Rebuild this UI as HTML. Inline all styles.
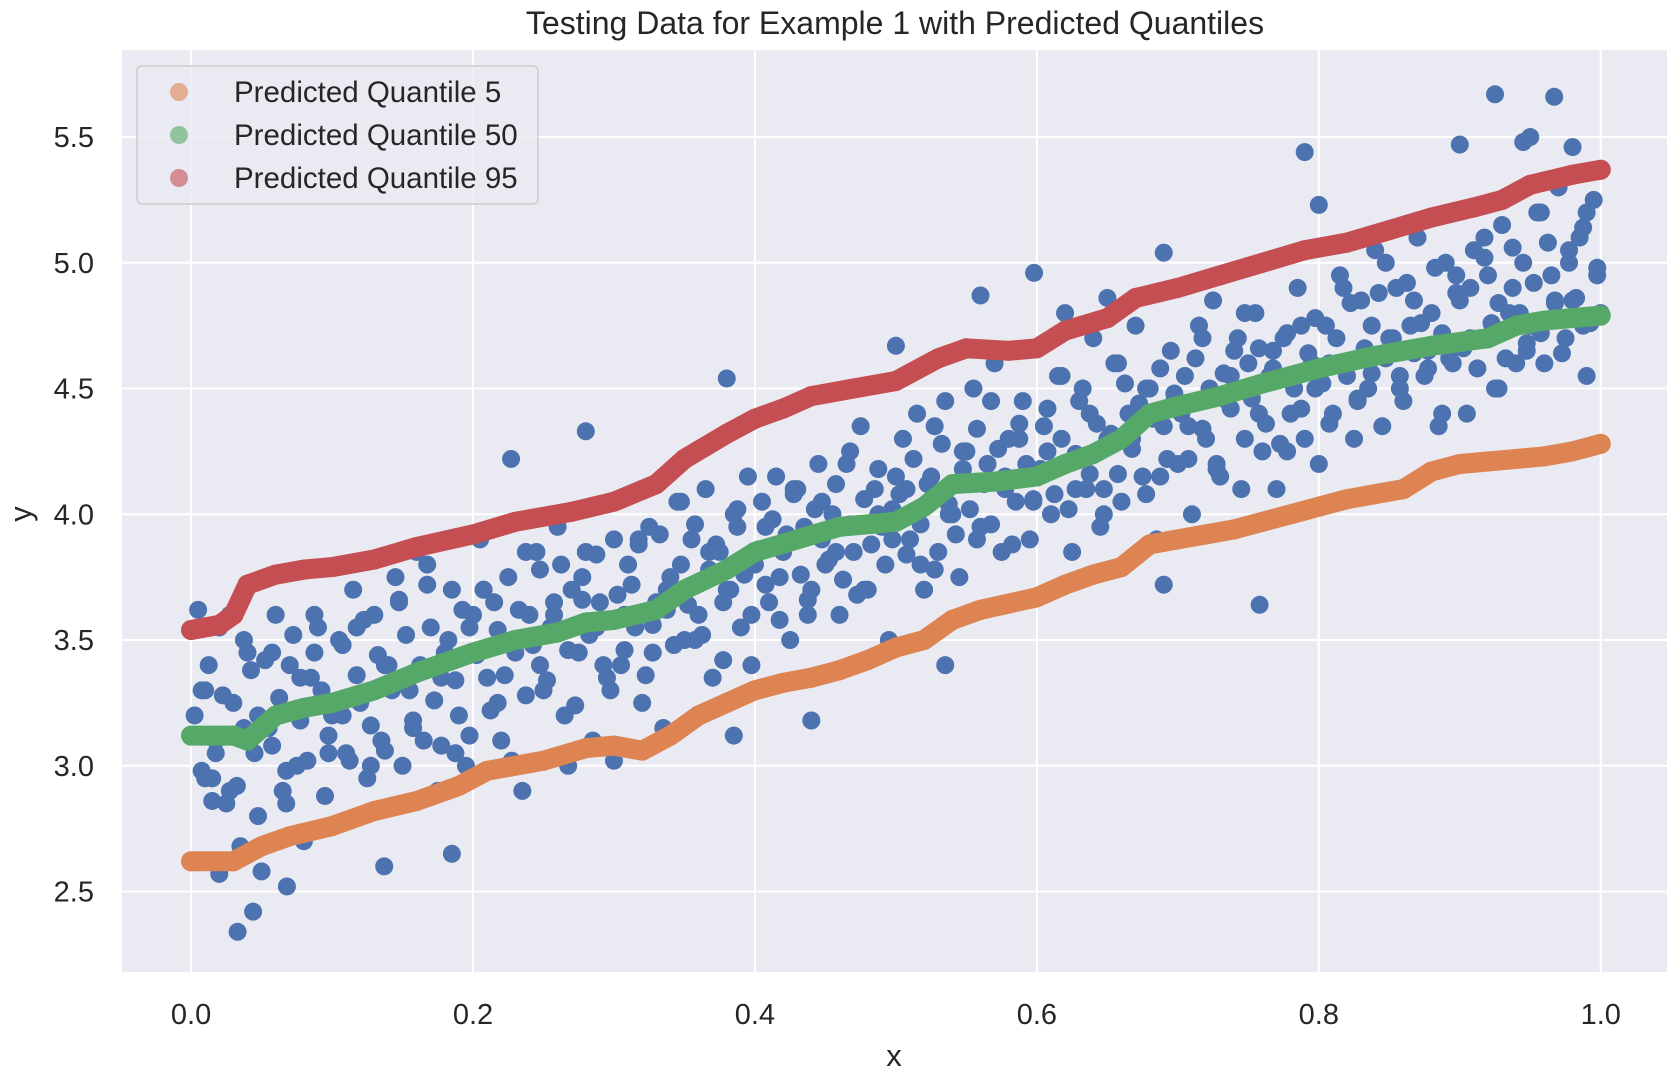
<!DOCTYPE html>
<html><head><meta charset="utf-8"><style>
html,body{margin:0;padding:0;background:#fff;}
svg{display:block;font-family:"Liberation Sans",Arial,sans-serif;}
</style></head><body>
<svg id="chart" width="1680" height="1082" viewBox="0 0 1680 1082" xmlns="http://www.w3.org/2000/svg">
<rect x="122" y="50" width="1545" height="922" fill="#eaeaf2"/>
<g id="grid"></g>
<g id="scatter"></g>
<g id="quant"></g>
<g id="ticks"></g>
<text x="895" y="34" text-anchor="middle" font-size="32" fill="#262626">Testing Data for Example 1 with Predicted Quantiles</text>
<text x="894" y="1066" text-anchor="middle" font-size="31" fill="#262626">x</text>
<text transform="translate(31,514) rotate(-90)" text-anchor="middle" font-size="31" fill="#262626">y</text>
<g>
<rect x="137" y="66" width="401" height="138" rx="5" fill="#eaeaf2" fill-opacity="0.8" stroke="#cccccc" stroke-width="1.5"/>
<g><circle cx="179" cy="92" r="9" fill="#dd8452" fill-opacity="0.6"/><text x="234" y="102" font-size="29.5" fill="#262626">Predicted Quantile 5</text></g>
<g><circle cx="179" cy="135" r="9" fill="#55a868" fill-opacity="0.6"/><text x="234" y="145" font-size="29.5" fill="#262626">Predicted Quantile 50</text></g>
<g><circle cx="179" cy="178" r="9" fill="#c44e52" fill-opacity="0.6"/><text x="234" y="188" font-size="29.5" fill="#262626">Predicted Quantile 95</text></g>
</g>
</svg>
<script>
const xTicks = [0.0,0.2,0.4,0.6,0.8,1.0];
const xTickLabels = ["0.0","0.2","0.4","0.6","0.8","1.0"];
const yTicks = [2.5,3.0,3.5,4.0,4.5,5.0,5.5];
const yTickLabels = ["2.5","3.0","3.5","4.0","4.5","5.0","5.5"];

const q5X = [0,0.03,0.05,0.07,0.1,0.13,0.16,0.19,0.21,0.25,0.28,0.3,0.32,0.34,0.36,0.38,0.4,0.42,0.44,0.46,0.48,0.5,0.52,0.54,0.56,0.6,0.62,0.64,0.66,0.68,0.7,0.72,0.74,0.76,0.78,0.8,0.82,0.84,0.86,0.88,0.9,0.92,0.94,0.96,0.98,1.0];
const q5Y = [2.62,2.62,2.68,2.72,2.76,2.82,2.86,2.92,2.98,3.02,3.07,3.08,3.06,3.12,3.2,3.25,3.3,3.33,3.35,3.38,3.42,3.47,3.5,3.58,3.62,3.67,3.72,3.76,3.79,3.88,3.9,3.92,3.94,3.97,4.0,4.03,4.06,4.08,4.1,4.17,4.2,4.21,4.22,4.23,4.25,4.28];
const q50X = [0,0.03,0.04,0.06,0.08,0.1,0.13,0.16,0.2,0.23,0.26,0.28,0.3,0.33,0.35,0.38,0.4,0.43,0.46,0.5,0.52,0.54,0.57,0.6,0.62,0.64,0.66,0.68,0.7,0.73,0.76,0.8,0.84,0.88,0.92,0.94,0.96,1.0];
const q50Y = [3.12,3.12,3.1,3.2,3.23,3.25,3.3,3.37,3.45,3.5,3.53,3.57,3.58,3.62,3.7,3.78,3.85,3.9,3.95,3.97,4.03,4.12,4.13,4.15,4.2,4.24,4.3,4.4,4.43,4.47,4.52,4.58,4.63,4.67,4.7,4.75,4.77,4.79];
const q95X = [0,0.02,0.03,0.04,0.06,0.08,0.1,0.13,0.16,0.2,0.23,0.27,0.3,0.33,0.35,0.38,0.4,0.42,0.44,0.47,0.5,0.53,0.55,0.58,0.6,0.62,0.65,0.67,0.7,0.73,0.76,0.79,0.82,0.85,0.88,0.91,0.93,0.95,0.98,1.0];
const q95Y = [3.54,3.56,3.6,3.72,3.76,3.78,3.79,3.82,3.87,3.92,3.97,4.01,4.05,4.12,4.22,4.32,4.38,4.42,4.47,4.5,4.53,4.62,4.66,4.65,4.66,4.73,4.78,4.86,4.9,4.95,5.0,5.05,5.08,5.13,5.18,5.22,5.25,5.31,5.35,5.37];

// cloud A: y values at x = 0.005, 0.010, ... 1.000
const cloudAY = [3.62,3.3,2.95,3.55,2.85,3.25,2.68,3.45,3.05,2.58,
3.15,3.6,2.9,3.4,3.0,2.7,3.35,3.55,2.88,3.2,
3.5,3.05,3.7,3.25,2.95,3.6,3.1,3.4,3.75,3.0,
3.3,3.85,3.1,3.55,2.9,3.45,3.7,3.2,3.0,3.6,
3.9,3.35,3.65,3.1,3.75,3.45,2.9,3.6,3.85,3.3,
3.55,3.95,3.2,3.7,3.45,3.85,3.1,3.65,3.35,3.9,
3.4,3.8,3.55,3.25,3.95,3.65,3.15,3.75,4.05,3.5,
3.9,3.6,4.1,3.35,3.85,3.7,4.0,3.55,4.15,3.8,
4.05,3.65,4.15,3.85,3.5,4.1,3.95,3.7,4.2,3.8,
4.0,3.6,4.2,3.85,4.35,3.7,4.1,3.95,3.5,4.15,
4.3,3.9,4.4,3.7,4.15,3.85,4.45,4.0,3.75,4.25,
4.5,3.95,4.2,4.6,3.85,4.3,4.05,4.45,3.9,4.15,
4.35,4.0,4.55,4.2,3.85,4.45,4.1,4.7,3.95,4.3,
4.6,4.05,4.4,4.75,4.15,4.5,3.9,4.35,4.65,4.2,
4.55,4.0,4.75,4.3,4.85,4.15,4.45,4.65,4.1,4.6,
4.8,4.25,4.55,4.1,4.7,4.4,4.9,4.3,4.6,4.2,
4.75,4.4,4.95,4.55,4.3,4.85,4.5,5.05,4.35,4.7,
4.9,4.45,4.75,5.1,4.55,4.8,4.35,5.0,4.6,4.85,
4.4,5.05,4.7,4.95,4.5,5.15,4.8,4.6,5.0,4.75,
5.2,4.6,4.95,5.3,4.7,4.85,5.1,4.55,5.25,4.8];
// cloud B: y values at x = 0.0075, 0.0175, ... 0.9975
const cloudBY = [3.3,3.1,2.9,3.5,3.2,3.45,2.85,3.35,3.6,3.05,
3.2,3.55,3.0,3.4,3.65,3.15,3.8,3.35,3.05,3.55,
3.7,3.25,3.5,3.85,3.4,3.65,3.0,3.75,3.55,3.3,
3.6,3.9,3.45,3.7,4.05,3.5,3.85,3.65,3.95,3.4,
3.95,3.75,4.1,3.6,4.05,3.85,4.25,3.7,4.0,3.9,
4.1,3.8,4.35,4.0,4.25,3.9,4.45,4.15,4.3,4.05,
4.25,4.55,4.1,4.4,4.0,4.6,4.3,4.5,4.15,4.45,
4.35,4.7,4.2,4.55,4.8,4.4,4.65,4.25,4.75,4.5,
4.6,4.9,4.45,4.75,5.0,4.55,4.85,4.65,4.4,4.95,
4.7,5.1,4.5,4.9,4.65,5.2,4.85,5.05,4.75,4.95];
// cloud C: y values at x = 0.0025, 0.0075(+0.005 steps) ... 0.9975
const cloudCY = [3.2,2.98,3.4,3.05,3.28,3.6,2.92,3.15,3.38,2.8,
3.42,3.08,3.27,2.98,3.52,3.18,3.02,3.45,3.3,3.12,
3.22,3.48,3.02,3.36,3.58,3.16,3.44,3.06,3.3,3.66,
3.52,3.18,3.4,3.72,3.26,3.08,3.5,3.34,3.62,3.12,
3.44,3.7,3.22,3.54,3.36,3.02,3.62,3.28,3.48,3.78,
3.34,3.6,3.8,3.46,3.24,3.66,3.52,3.84,3.4,3.58,
3.68,3.46,3.72,3.88,3.36,3.56,3.92,3.62,3.48,3.8,
3.64,3.96,3.52,3.78,3.88,3.42,3.7,4.02,3.76,3.6,
3.86,3.72,3.98,3.58,3.92,4.08,3.76,3.66,4.02,3.9,
3.82,4.12,3.74,3.96,3.68,4.06,3.88,4.18,3.8,4.02,
4.08,3.84,4.22,3.96,4.12,3.78,4.28,4.04,3.92,4.18,
4.02,4.34,4.12,3.96,4.26,4.1,3.88,4.36,4.2,4.06,
4.18,4.42,4.08,4.3,4.02,4.24,4.5,4.16,4.36,4.1,
4.32,4.16,4.52,4.26,4.44,4.08,4.38,4.58,4.22,4.48,
4.4,4.22,4.62,4.34,4.5,4.18,4.56,4.42,4.7,4.3,
4.46,4.66,4.36,4.58,4.28,4.72,4.5,4.42,4.64,4.78,
4.52,4.36,4.7,4.6,4.84,4.46,4.66,4.56,4.88,4.62,
4.7,4.5,4.92,4.64,4.76,4.58,4.98,4.72,4.62,4.88,
4.66,4.9,4.58,5.02,4.76,4.84,4.62,5.06,4.8,4.68,
4.92,4.72,5.08,4.84,4.64,5.0,4.86,5.14,4.76,4.98];
const outlierX = [0.033,0.044,0.068,0.137,0.185,0.38,0.28,0.227,0.598,0.79,0.8,0.925,0.967,0.9,0.945,0.758,0.69,0.535,0.44,0.385,0.3,0.69,0.65,0.02,0.01,0.015,0.5,0.56,0.62,0.98,0.99,0.97,0.95];
const outlierY = [2.34,2.42,2.52,2.6,2.65,4.54,4.33,4.22,4.96,5.44,5.23,5.67,5.66,5.47,5.48,3.64,3.72,3.4,3.18,3.12,3.02,5.04,4.86,2.57,2.95,2.86,4.67,4.87,4.8,5.46,5.2,5.3,5.5];

const X0=122, X1=1667, Y0=972, Y1=50;
const xMin=-0.049, xMax=1.047, yMin=2.18, yMax=5.846;
function sx(v){return X0+(v-xMin)/(xMax-xMin)*(X1-X0);}
function sy(v){return Y0-(v-yMin)/(yMax-yMin)*(Y0-Y1);}
const NS="http://www.w3.org/2000/svg";
function mk(tag,parent,attrs){const e=document.createElementNS(NS,tag);for(const k in attrs)e.setAttribute(k,attrs[k]);parent.appendChild(e);return e;}

const grid=document.getElementById('grid'), ticks=document.getElementById('ticks');
xTicks.forEach((t,i)=>{
  const l=mk('line',grid,{x1:sx(t),x2:sx(t),y1:Y1,y2:Y0,stroke:'#fff','stroke-width':2});
  
  
  const tx=mk('text',ticks,{x:sx(t),y:1024,'text-anchor':'middle','font-size':29,fill:'#262626'});
  tx.textContent=xTickLabels[i];
  
  
});
yTicks.forEach((t,i)=>{
  const l=mk('line',grid,{x1:X0,x2:X1,y1:sy(t),y2:sy(t),stroke:'#fff','stroke-width':2});
  
  
  const tx=mk('text',ticks,{x:94,y:sy(t)+10,'text-anchor':'end','font-size':29,fill:'#262626'});
  tx.textContent=yTickLabels[i];
  
  
});

const sc=document.getElementById('scatter');
function dot(x,y){
  const c=mk('circle',sc,{cx:sx(x),cy:sy(y),r:9,fill:'#4c72b0'});
  
  
}
cloudAY.forEach((y,i)=>dot(0.005*(i+1),y));
cloudBY.forEach((y,i)=>dot(0.0075+0.01*i,y));
cloudCY.forEach((y,i)=>dot(0.0025+0.005*i,y));
outlierX.forEach((x,i)=>dot(x,outlierY[i]));

const q=document.getElementById('quant');
function series(xs,ys,color,name){
  const g=mk('g',q,{});
  
  
  const d=xs.map((x,i)=>(i?'L':'M')+sx(x).toFixed(1)+' '+sy(ys[i]).toFixed(1)).join(' ');
  mk('path',g,{d:d,fill:'none',stroke:color,'stroke-width':20,'stroke-linecap':'round','stroke-linejoin':'round'});
  xs.forEach((x,i)=>{
    const c=mk('circle',g,{cx:sx(x),cy:sy(ys[i]),r:10,fill:color});
    
    
  });
}
series(q5X,q5Y,'#dd8452','quantile-5-series');
series(q50X,q50Y,'#55a868','quantile-50-series');
series(q95X,q95Y,'#c44e52','quantile-95-series');
</script>
</body></html>
